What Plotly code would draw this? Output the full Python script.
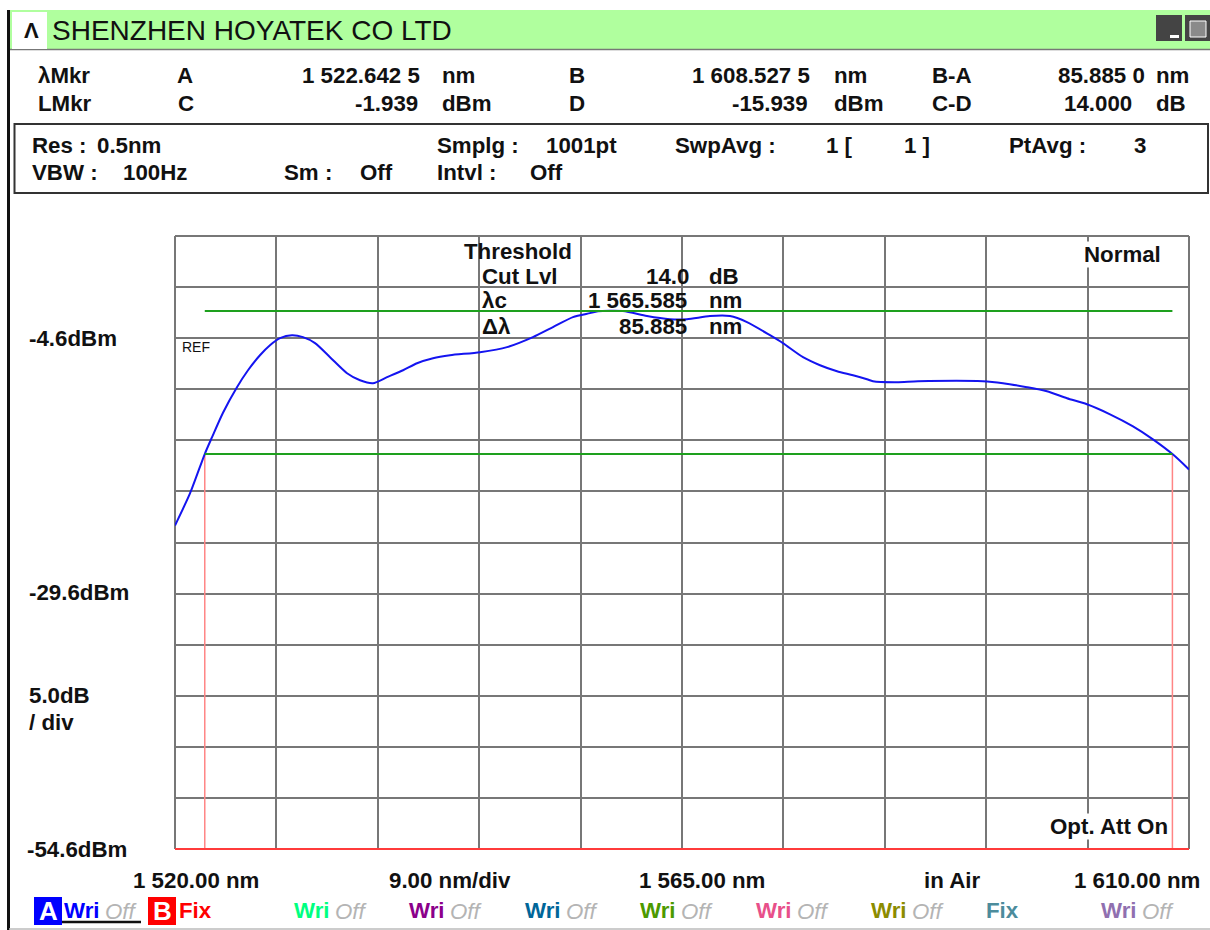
import plotly.graph_objects as go

W, H = 1210, 930
L, R, T, B = 175, 1189, 236, 849

wavelength_nm = [1520.00, 1521.33, 1522.64, 1523.28, 1524.26, 1525.50, 1526.48, 1527.54, 1528.43, 1529.32,
                 1530.38, 1531.36, 1532.43, 1533.76, 1535.27, 1536.42, 1537.57, 1538.82, 1540.24, 1541.48,
                 1542.90, 1544.41, 1547.07, 1549.47, 1551.77, 1553.55, 1555.32, 1556.83, 1557.54, 1559.76,
                 1561.89, 1563.93, 1565.44, 1567.48, 1569.26, 1570.77, 1572.81, 1573.96, 1575.74, 1577.25,
                 1578.76, 1580.18, 1581.42, 1581.95, 1584.08, 1585.94, 1591.71, 1593.49, 1595.62, 1597.39,
                 1599.17, 1600.94, 1602.99, 1605.03, 1606.80, 1608.53, 1609.91, 1610.00]
level_dbm = [-22.93, -19.80, -15.94, -14.31, -11.90, -9.40, -7.74, -6.27, -5.29, -4.60,
             -4.31, -4.50, -5.09, -6.46, -8.03, -8.72, -9.01, -8.42, -7.74, -7.05,
             -6.56, -6.27, -5.97, -5.48, -4.50, -3.52, -2.54, -2.15, -1.97, -1.95,
             -2.44, -2.74, -2.74, -2.44, -2.44, -3.03, -4.31, -5.09, -6.46, -7.25,
             -7.84, -8.23, -8.62, -8.82, -8.91, -8.82, -8.82, -9.01, -9.40, -9.80,
             -10.48, -11.07, -12.05, -13.23, -14.50, -15.94, -17.35, -17.45]
marker_a_nm, marker_b_nm = 1522.6425, 1608.5275
marker_c_dbm, marker_d_dbm = -1.939, -15.939
x_start, x_stop, x_div = 1520.0, 1610.0, 9.0
y_bottom, y_top, y_div = -54.6, 5.4, 5.0

BLACK = "#111111"
FONT = "Liberation Sans"
TXT = 22.3


def px(x):
    return (x - L) / (R - L)


def py(y):
    return (B - y) / (B - T)


fig = go.Figure()
fig.add_trace(go.Scatter(x=[marker_a_nm, marker_a_nm], y=[y_bottom, marker_d_dbm], mode="lines",
                         line=dict(color="#ff8585", width=1.5), hoverinfo="skip"))
fig.add_trace(go.Scatter(x=[marker_b_nm, marker_b_nm], y=[y_bottom, marker_d_dbm], mode="lines",
                         line=dict(color="#ff8585", width=1.5), hoverinfo="skip"))
fig.add_trace(go.Scatter(x=wavelength_nm, y=level_dbm, mode="lines",
                         line=dict(color="#1414f0", width=2, shape="spline", smoothing=0.7), hoverinfo="skip"))
fig.add_trace(go.Scatter(x=[marker_a_nm, marker_b_nm], y=[marker_c_dbm, marker_c_dbm], mode="lines",
                         line=dict(color="#1ea01e", width=2), hoverinfo="skip"))
fig.add_trace(go.Scatter(x=[marker_a_nm, marker_b_nm], y=[marker_d_dbm, marker_d_dbm], mode="lines",
                         line=dict(color="#1ea01e", width=2), hoverinfo="skip"))


def rect(x0, y0, x1, y1, fill="rgba(0,0,0,0)", line=None, lw=0, layer="below"):
    fig.add_shape(type="rect", xref="paper", yref="paper", x0=px(x0), x1=px(x1), y0=py(y0), y1=py(y1),
                  fillcolor=fill, line=dict(color=line or fill, width=lw), layer=layer)


def hline(x0, x1, y, color, lw, layer="below"):
    fig.add_shape(type="line", xref="paper", yref="paper", x0=px(x0), x1=px(x1), y0=py(y), y1=py(y),
                  line=dict(color=color, width=lw), layer=layer)


def vline(x, y0, y1, color, lw, layer="below"):
    fig.add_shape(type="line", xref="paper", yref="paper", x0=px(x), x1=px(x), y0=py(y0), y1=py(y1),
                  line=dict(color=color, width=lw), layer=layer)


# window chrome
rect(9, 10, W, 49, fill="#b0ff9e")
hline(9, W, 49.5, "#777777", 1.5)
rect(12, 12, 47, 49, fill="#ffffff")
vline(8.5, 10, H, "#111111", 3)
hline(9, W, 929, "#bbbbbb", 1.5)
rect(1156, 15, 1182, 41, fill="#444444")
rect(1170, 35, 1179, 38, fill="#ffffff")
rect(1185, 15, 1210, 41, fill="#444444")
rect(1190, 21, 1206, 37, fill="#8a8a8a", line="#ffffff", lw=1)
rect(14.5, 124, 1208, 193, fill="#ffffff", line="#333333", lw=2)
# plot frame
hline(L, R, T, "#777777", 2)
vline(R, T, B, "#777777", 2)
vline(L, T, B, "#777777", 2)
hline(L, R, B, "#ff3b3b", 2, layer="above")
# trace selector
rect(34, 897, 62, 925, fill="#0000ff")
rect(148, 897, 176, 925, fill="#ff0000")
hline(62, 141, 922, "#111111", 2.5)


def text(x, y, s, size=TXT, color=BLACK, bold=True, anchor="left", bg=None):
    fig.add_annotation(xref="paper", yref="paper", x=px(x), y=py(y), text=f"<b>{s}</b>" if bold else s,
                       showarrow=False, xanchor=anchor, yanchor="middle", align=anchor,
                       font=dict(family=FONT, size=size, color=color), borderpad=0,
                       bgcolor=bg if bg else "rgba(0,0,0,0)")


text(23, 31, "Λ", 22)
text(51, 31, "SHENZHEN HOYATEK CO LTD", 28, bold=False)

header = [
    (37, 76, "λMkr", "left"), (37, 103, "LMkr", "left"), (176, 76, "A", "left"), (177, 103, "C", "left"),
    (421, 76, "1 522.642 5", "right"), (419, 103, "-1.939", "right"), (441, 76, "nm", "left"), (441, 103, "dBm", "left"),
    (568, 76, "B", "left"), (568, 103, "D", "left"), (811, 76, "1 608.527 5", "right"), (809, 103, "-15.939", "right"),
    (833, 76, "nm", "left"), (833, 103, "dBm", "left"), (931, 76, "B-A", "left"), (931, 103, "C-D", "left"),
    (1146, 76, "85.885 0", "right"), (1133, 103, "14.000", "right"), (1155, 76, "nm", "left"), (1155, 103, "dB", "left"),
    (31, 145, "Res :", "left"), (96, 145, "0.5nm", "left"), (31, 173, "VBW :", "left"), (122, 173, "100Hz", "left"),
    (283, 173, "Sm :", "left"), (359, 173, "Off", "left"), (436, 145, "Smplg :", "left"), (545, 145, "1001pt", "left"),
    (436, 173, "Intvl :", "left"), (529, 173, "Off", "left"), (674, 145, "SwpAvg :", "left"),
    (825, 145, "1 [", "left"), (903, 145, "1 ]", "left"), (1008, 145, "PtAvg :", "left"), (1133, 145, "3", "left"),
    (28, 338, "-4.6dBm", "left"), (28, 592, "-29.6dBm", "left"), (28, 695, "5.0dB", "left"),
    (28, 722, "/ div", "left"), (26, 849, "-54.6dBm", "left"),
    (132, 880, "1 520.00 nm", "left"), (388, 880, "9.00 nm/div", "left"), (638, 880, "1 565.00 nm", "left"),
    (923, 880, "in Air", "left"), (1073, 880, "1 610.00 nm", "left"),
    (463, 251, "Threshold", "left"), (481, 276, "Cut Lvl", "left"), (690, 276, "14.0", "right"), (708, 276, "dB", "left"),
    (481, 300, "λc", "left"), (688, 300, "1 565.585", "right"), (708, 300, "nm", "left"),
    (481, 326, "Δλ", "left"), (688, 326, "85.885", "right"), (708, 326, "nm", "left"),
]
for x, y, s, a in header:
    text(x, y, s, anchor=a)

text(181, 347, "REF", 14, bold=False)
text(1083, 254, "Normal", bg="#ffffff")
text(1049, 826, "Opt. Att On", bg="#ffffff")

text(38, 911, "A", 26, color="#ffffff")
text(152, 911, "B", 26, color="#ffffff")
text(178, 910, "Fix", color="#ff0000")
text(985, 910, "Fix", color="#4c8c9c")
selector = [(63, "#0000ff"), (293, "#00ff80"), (408, "#8b008b"), (524, "#006699"), (639, "#4c9a00"),
            (755, "#e8508a"), (870, "#8c8c00"), (1100, "#9070b0")]
for x, c in selector:
    text(x, 910, "Wri", color=c)
    text(x + 41, 911, "<i>Off</i>", color="#b4b4b4", bold=False)

grid = dict(showgrid=True, gridcolor="#777777", gridwidth=2, zeroline=False, showticklabels=False,
            ticks="", showline=False)
fig.update_layout(
    width=W, height=H, margin=dict(l=L, r=W - R, t=T, b=H - B, pad=0, autoexpand=False),
    paper_bgcolor="#ffffff", plot_bgcolor="#ffffff", showlegend=False,
    xaxis=dict(range=[x_start, x_stop], tick0=x_start, dtick=x_div, **grid),
    yaxis=dict(range=[y_bottom, y_top], tick0=y_bottom, dtick=y_div, **grid),
)
fig.write_html("out.html", config={"displayModeBar": False},
               post_script="document.body.style.margin='0';document.body.style.overflow='hidden';")
